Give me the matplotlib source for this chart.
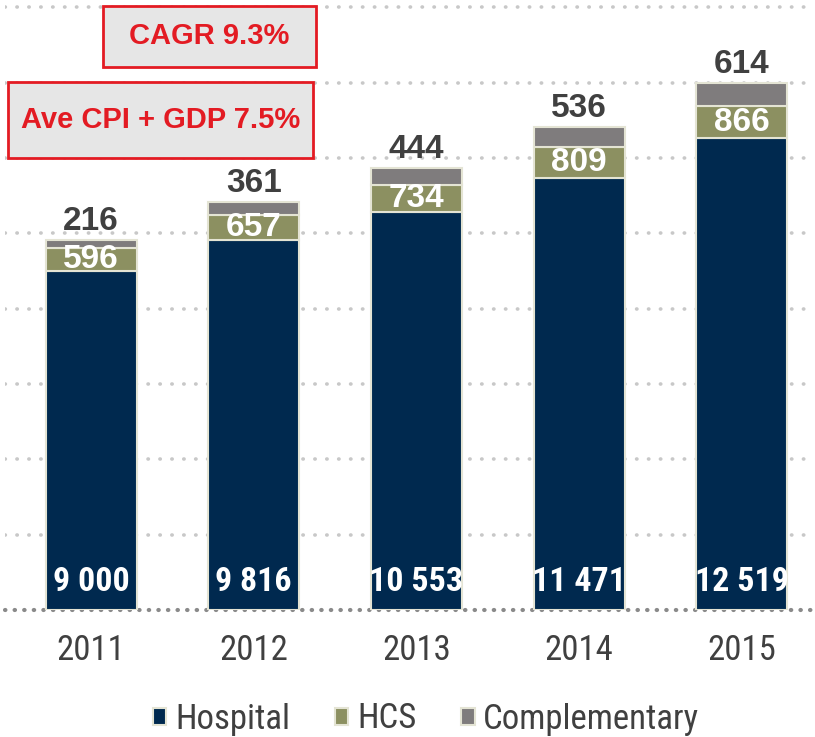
import matplotlib.pyplot as plt
import numpy as np
from matplotlib.patches import Rectangle
from matplotlib import font_manager

years = ["2011", "2012", "2013", "2014", "2015"]
hospital = [9000, 9816, 10553, 11471, 12519]
hcs = [596, 657, 734, 809, 866]
complementary = [216, 361, 444, 536, 614]
hospital_labels = ["9 000", "9 816", "10 553", "11 471", "12 519"]

navy = "#00294f"
olive = "#8c9061"
grey = "#7f7c7d"
edge = "#e4e4d4"

# pick a narrow sans (Arial Narrow look-alike) if one is installed
installed = {f.name for f in font_manager.fontManager.ttflist}
narrow_pick = next((n for n in ["Liberation Sans Narrow", "Arial Narrow", "Roboto Condensed",
                                "PT Sans Narrow", "Archivo Narrow", "Open Sans Condensed"]
                    if n in installed), "DejaVu Sans")
narrow = [narrow_pick, "DejaVu Sans"]
arial = ["Liberation Sans", "DejaVu Sans"]

fig = plt.figure(figsize=(8.15, 7.37), dpi=100)
ax = fig.add_axes([0.006, 0.1723, 0.994, 0.8277])

x = np.arange(len(years))
w = 0.56
hosp = np.array(hospital)
h2 = np.array(hcs)
c3 = np.array(complementary)

ax.bar(x, hosp, w, color=navy, edgecolor=edge, linewidth=1.5, label="Hospital", zorder=3)
ax.bar(x, h2, w, bottom=hosp, color=olive, edgecolor=edge, linewidth=1.5, label="HCS", zorder=3)
ax.bar(x, c3, w, bottom=hosp + h2, color=grey, edgecolor=edge, linewidth=1.5, label="Complementary", zorder=3)

for i in range(len(years)):
    ax.annotate(hospital_labels[i], (x[i], 0), xytext=(0, 28), textcoords="offset pixels",
                ha="center", va="center", color="white", fontsize=24.5, fontweight="bold",
                family=narrow, zorder=4)
    ax.text(x[i], hosp[i] + h2[i] / 2, str(hcs[i]), ha="center", va="center", color="white",
            fontsize=24, fontweight="bold", family=arial, zorder=4)
    ax.annotate(str(complementary[i]), (x[i], hosp[i] + h2[i] + c3[i]), xytext=(0, 3),
                textcoords="offset pixels", ha="center", va="bottom", color="#404040",
                fontsize=24, fontweight="bold", family=arial, zorder=4)

ax.set_xlim(-0.53, 4.45)
ax.set_ylim(0, 16190)
ax.set_yticks(np.arange(2000, 16001, 2000))
ax.yaxis.grid(True, color="#c8c8c8", linestyle=(0, (0.1, 3.2)), linewidth=2.6,
              dash_capstyle="round")
ax.set_axisbelow(True)
ax.axhline(0, color="#8a8a8a", linestyle=(0, (0.1, 2.2)), linewidth=3,
           dash_capstyle="round", zorder=2, clip_on=False)
for s in ax.spines.values():
    s.set_visible(False)
ax.tick_params(left=False, labelleft=False, bottom=False)
ax.set_xticks(x)
ax.set_xticklabels(years, fontsize=25, color="#404040", family=narrow)
ax.tick_params(axis="x", pad=14)

# annotation boxes
boxes = [("CAGR 9.3%", 103, 6, 316, 67), ("Ave CPI + GDP 7.5%", 8, 82, 313, 158)]
W, H = 815, 737
for txt, x0, y0, x1, y1 in boxes:
    r = Rectangle((x0 / W, 1 - y1 / H), (x1 - x0) / W, (y1 - y0) / H, transform=fig.transFigure,
                  facecolor="#e6e6e6", edgecolor="#e31b23", linewidth=2, zorder=5)
    fig.patches.append(r)
    fig.text((x0 + x1) / 2 / W, 1 - (y0 + y1) / 2 / H, txt, ha="center", va="center",
             color="#e31b23", fontsize=21, fontweight="bold", family=arial, zorder=6)

leg = fig.legend(loc="center", bbox_to_anchor=(0.523, 1 - 719 / H), ncol=3, frameon=False,
                 prop={"family": narrow, "size": 25}, handlelength=0.38, handleheight=0.38,
                 handletextpad=0.25, columnspacing=1.3, labelcolor="#404040")

fig.savefig("out.png", dpi=100)
